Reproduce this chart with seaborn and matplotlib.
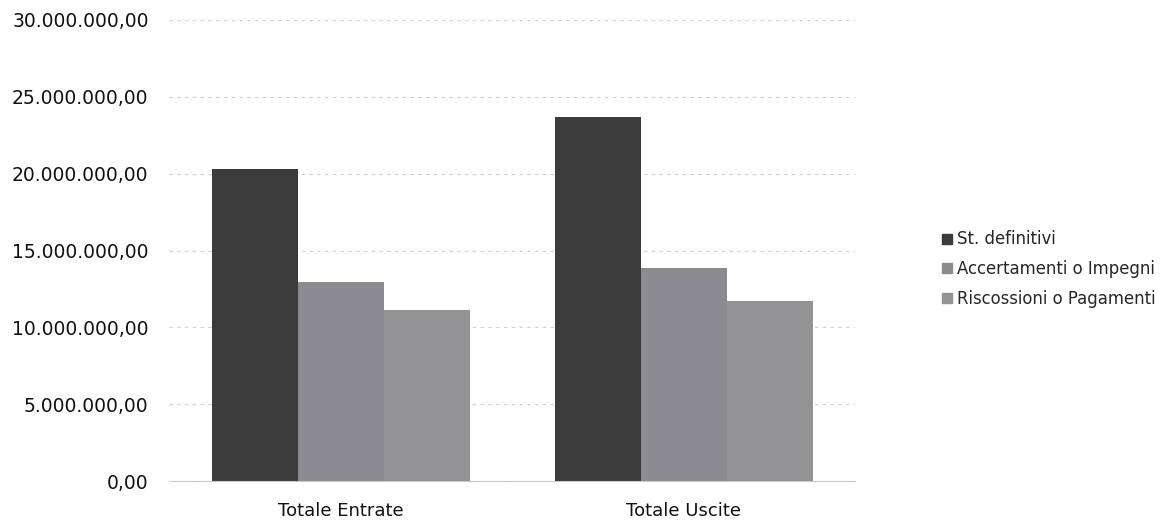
import matplotlib
matplotlib.use("Agg")
import matplotlib.pyplot as plt
import seaborn as sns
import pandas as pd
from matplotlib.lines import Line2D
from matplotlib.ticker import FuncFormatter

categories = ["Totale Entrate", "Totale Uscite"]
series = ["St. definitivi", "Accertamenti o Impegni", "Riscossioni o Pagamenti"]
st_definitivi = [20300000, 23700000]
accertamenti = [12950000, 13850000]
riscossioni = [11100000, 11700000]
colors = ["#3b3b3b", "#8c8c90", "#939396"]

rows = []
for s, vals in zip(series, [st_definitivi, accertamenti, riscossioni]):
    for c, v in zip(categories, vals):
        rows.append({"cat": c, "serie": s, "val": v})
df = pd.DataFrame(rows)

sns.set_style("white")
plt.rcParams["font.family"] = ["DejaVu Sans"]

fig = plt.figure(figsize=(11.63, 5.23), dpi=100)
ax = fig.add_axes([0.1457, 0.080, 0.5898, 0.882])
sns.barplot(data=df, x="cat", y="val", hue="serie", order=categories,
            hue_order=series, palette=colors, width=0.75, saturation=1,
            ax=ax, legend=False, linewidth=0)

ax.set_ylim(0, 30000000)
ax.set_yticks(range(0, 30000001, 5000000))
def fmt(v, p):
    s = f"{v:,.2f}"
    return s.replace(",", "X").replace(".", ",").replace("X", ".")
ax.yaxis.set_major_formatter(FuncFormatter(fmt))
ax.set_xlim(-0.5, 1.5)
ax.grid(axis="y", color="#d0d0d0", linestyle=(0, (3, 4)), linewidth=0.8)
ax.set_axisbelow(True)
for sp in ["top", "right", "left"]:
    ax.spines[sp].set_visible(False)
ax.spines["bottom"].set_color("#c8c8c8")
ax.spines["bottom"].set_linewidth(0.8)
ax.tick_params(axis="both", length=0, colors="#111111")
ax.tick_params(axis="y", pad=15, labelsize=13.5)
ax.tick_params(axis="x", pad=15, labelsize=13)
ax.set_xlabel("")
ax.set_ylabel("")

handles = [Line2D([0], [0], marker="s", linestyle="", markersize=7,
                  markerfacecolor=c, markeredgecolor=c) for c in colors]
fig.legend(handles, series, loc="upper left", bbox_to_anchor=(0.794, 0.588),
           frameon=False, fontsize=11.9, handletextpad=0.15, labelspacing=0.72,
           handlelength=1.0)

fig.savefig("out.png", dpi=100)
